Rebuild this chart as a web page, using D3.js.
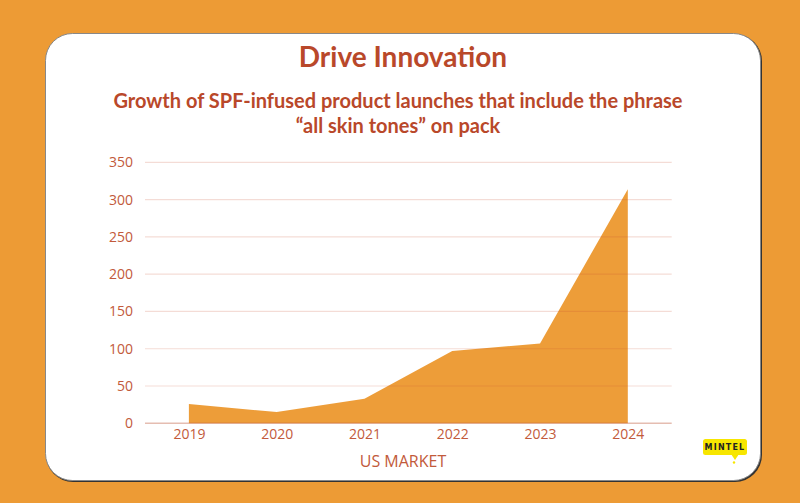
<!DOCTYPE html>
<html>
<head>
<meta charset="utf-8">
<script src="https://cdn.jsdelivr.net/npm/d3@7/dist/d3.min.js"></script>
<style>
  html, body { margin: 0; padding: 0; background: #ED9B35; }
  svg { display: block; }
</style>
</head>
<body>
<svg id="chart" width="800" height="503"></svg>
<script>
const years = ["2019", "2020", "2021", "2022", "2023", "2024"];
const launches = [26, 15, 33, 97, 107, 314];
const yTicks = [0, 50, 100, 150, 200, 250, 300, 350];
const titleText = "Drive Innovation";
const subtitleLines = ["Growth of SPF-infused product launches that include the phrase", "\u201call skin tones\u201d on pack"];
const xAxisLabel = "US MARKET";

const W = 800, H = 503;
const svg = d3.select("#chart");
const textColor = "#b9482a";
const tickColor = "#c25a3b";
const orange = "#ED9B35";

// background
svg.append("rect").attr("width", W).attr("height", H).attr("fill", orange);

// card shadow + card
svg.append("rect").attr("x", 46).attr("y", 34).attr("width", 716).attr("height", 448)
  .attr("rx", 27).attr("fill", "#333");
svg.append("rect").attr("x", 45.5).attr("y", 33.5).attr("width", 715).attr("height", 447)
  .attr("rx", 27).attr("fill", "#fff").attr("stroke", "#888").attr("stroke-width", 1);

// titles
svg.append("text").attr("x", 403).attr("y", 67).attr("text-anchor", "middle")
  .attr("font-family", "Lato, sans-serif").attr("font-weight", 700).attr("font-size", 28)
  .attr("fill", textColor).text(titleText);
subtitleLines.forEach((t, i) => {
  svg.append("text").attr("x", 398).attr("y", 108 + i * 25).attr("text-anchor", "middle")
    .attr("font-family", "Lato, sans-serif").attr("font-weight", 700).attr("font-size", 20)
    .attr("fill", textColor).text(t);
});

// scales
const x = d3.scalePoint().domain(years).range([145, 671.7]).padding(0.5);
const y = d3.scaleLinear().domain([0, 350]).range([423.3, 162.3]);

const data = years.map((yr, i) => ({ yr, v: launches[i] }));

// area
const area = d3.area().x(d => x(d.yr)).y0(y(0)).y1(d => y(d.v));
svg.append("path").datum(data).attr("d", area).attr("fill", orange).attr("opacity", 0.98);

// gridlines
const grid = svg.append("g");
grid.selectAll("line").data(yTicks).join("line")
  .attr("x1", 145).attr("x2", 671.7)
  .attr("y1", d => y(d)).attr("y2", d => y(d))
  .attr("stroke", d => d === 0 ? "rgba(190,90,60,0.4)" : "rgba(200,80,50,0.2)")
  .attr("stroke-width", d => d === 0 ? 1.5 : 1.2);

// y axis
const yAxis = d3.axisLeft(y).tickValues(yTicks).tickSize(0).tickPadding(0);
const yg = svg.append("g").attr("transform", "translate(133,0)").call(yAxis);
yg.select(".domain").remove();
yg.selectAll("text").attr("font-family", "'Open Sans', sans-serif").attr("font-size", 14)
  .attr("fill", tickColor);

// x axis
const xAxis = d3.axisBottom(x).tickSize(0).tickPadding(0);
const xg = svg.append("g").attr("transform", "translate(0,429)").call(xAxis);
xg.select(".domain").remove();
xg.selectAll("text").attr("font-family", "'Open Sans', sans-serif").attr("font-size", 14)
  .attr("fill", tickColor);

// x label
svg.append("text").attr("x", 403).attr("y", 467).attr("text-anchor", "middle")
  .attr("font-family", "'Open Sans', sans-serif").attr("font-size", 16)
  .attr("fill", tickColor).text(xAxisLabel);

// Mintel logo
const logo = svg.append("g").attr("transform", "translate(703,439)");
logo.append("rect").attr("width", 44).attr("height", 16).attr("rx", 2.5).attr("fill", "#F7E600");
logo.append("path").attr("d", "M28,15 L36,15 L32,21 Z").attr("fill", "#F7E600");
logo.append("circle").attr("cx", 31).attr("cy", 23.5).attr("r", 1.2).attr("fill", "#F7E600");
logo.append("text").attr("x", 22).attr("y", 11).attr("text-anchor", "middle")
  .attr("font-family", "DejaVu Sans, sans-serif").attr("font-weight", 700).attr("font-size", 8)
  .attr("letter-spacing", 1.2).attr("fill", "#222").text("MINTEL");
</script>
</body>
</html>
